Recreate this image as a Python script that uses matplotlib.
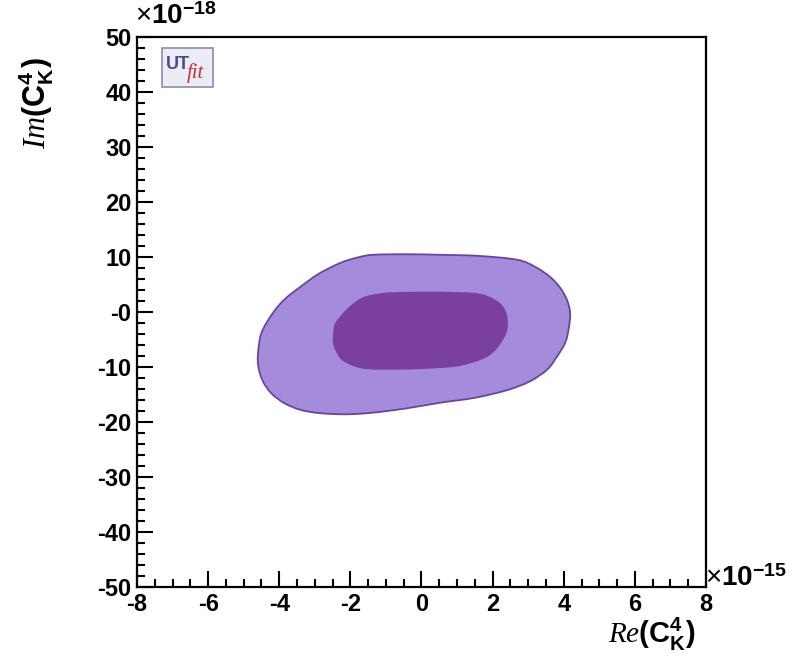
import matplotlib
matplotlib.use("Agg")
import numpy as np
import matplotlib.pyplot as plt
from matplotlib.patches import Rectangle, PathPatch
from matplotlib.path import Path
from matplotlib.ticker import MultipleLocator

# outer (95%) contour, x in 1e-15, y in 1e-18
outer_x = [-4.60, -4.50, -4.18, -3.85, -3.42, -2.90, -2.29, -1.80, -1.36, -0.40, 0.52,
           1.60, 2.69, 3.20, 3.61, 3.90, 4.09, 4.18, 4.14, 4.04, 3.80, 3.53, 3.05,
           2.41, 1.50, 0.52, -0.40, -1.36, -2.10, -2.85, -3.40, -3.85, -4.22, -4.46, -4.58]
outer_y = [-7.8, -3.8, -0.2, 2.3, 4.5, 6.9, 8.9, 9.9, 10.4, 10.5, 10.4,
           10.2, 9.5, 8.2, 6.4, 4.4, 2.2, -0.2, -3.0, -5.6, -8.2, -10.5, -12.6,
           -14.2, -15.6, -16.5, -17.5, -18.3, -18.6, -18.4, -17.8, -16.6, -14.8, -12.6, -10.2]

# inner (68%) contour
inner_x = [-2.49, -2.44, -2.21, -1.95, -1.64, -1.25, -0.80, 0.30, 1.45, 1.90, 2.21,
           2.38, 2.43, 2.40, 2.29, 2.10, 1.84, 1.40, 0.89, -0.10, -1.17, -1.65,
           -2.01, -2.25, -2.38, -2.48]
inner_y = [-4.5, -2.2, -0.2, 1.4, 2.7, 3.3, 3.6, 3.7, 3.5, 2.8, 1.6,
           0.0, -2.0, -3.6, -5.1, -6.8, -8.2, -9.3, -10.0, -10.4, -10.5, -10.3,
           -9.6, -8.7, -7.5, -6.0]

x_ticks = [-8, -6, -4, -2, 0, 2, 4, 6, 8]
x_ticklabels = ["-8", "-6", "-4", "-2", "0", "2", "4", "6", "8"]
y_ticks = [-50, -40, -30, -20, -10, 0, 10, 20, 30, 40, 50]
y_ticklabels = ["-50", "-40", "-30", "-20", "-10", "-0", "10", "20", "30", "40", "50"]


def smooth_closed_path(xs, ys):
    # closed Catmull-Rom curve through the points, as cubic Bezier segments
    p = np.column_stack([xs, ys])
    n = len(p)
    verts = [p[0]]
    codes = [Path.MOVETO]
    for i in range(n):
        p0, p1, p2, p3 = p[i - 1], p[i], p[(i + 1) % n], p[(i + 2) % n]
        verts += [p1 + (p2 - p0) / 6, p2 - (p3 - p1) / 6, p2]
        codes += [Path.CURVE4] * 3
    return Path(verts, codes)


plt.rcParams["axes.unicode_minus"] = False
plt.rcParams["mathtext.fontset"] = "custom"
plt.rcParams["mathtext.it"] = "Liberation Serif:italic"
plt.rcParams["mathtext.bf"] = "Liberation Sans:bold"
plt.rcParams["mathtext.rm"] = "Liberation Sans"
plt.rcParams["font.family"] = ["Liberation Sans", "DejaVu Sans"]

fig = plt.figure(figsize=(7.97, 6.69), dpi=100)
ax = fig.add_axes([0.1719, 0.1226, 0.7139, 0.8221])

ax.add_patch(PathPatch(smooth_closed_path(outer_x, outer_y), facecolor="#a58bdb",
                       edgecolor="#6a4598", linewidth=1.3, zorder=2))
ax.add_patch(PathPatch(smooth_closed_path(inner_x, inner_y), facecolor="#7b3fa0",
                       edgecolor="none", zorder=3))

ax.set_xticks(x_ticks)
ax.set_xticklabels(x_ticklabels, fontweight="bold")
ax.set_yticks(y_ticks)
ax.set_yticklabels(y_ticklabels, fontweight="bold")
ax.xaxis.set_minor_locator(MultipleLocator(0.5))
ax.yaxis.set_minor_locator(MultipleLocator(2))
ax.set_xlim(-8, 8)
ax.set_ylim(-50, 50)
ax.tick_params(which="both", direction="in", top=False, right=False, width=1.5,
               labelsize=17)
ax.tick_params(which="major", length=11.5, pad=4)
ax.tick_params(which="minor", length=5.5)
for s in ax.spines.values():
    s.set_linewidth(1.6)

ax.set_xlabel(r"$\mathit{Re}\mathbf{(C^{4}_{K})}$", fontsize=21)
ax.xaxis.set_label_coords(0.905, -0.052)
ax.set_ylabel(r"$\mathit{Im}\mathbf{(C^{4}_{K})}$", fontsize=22)
ax.yaxis.set_label_coords(-0.143, 0.88)

# exponent markers
fig.text(0.170, 0.955, r"$\times$10$^{\mathbf{-18}}$", fontsize=20, fontweight="bold",
         ha="left", va="bottom")
fig.text(0.884, 0.135, r"$\times$10$^{\mathbf{-15}}$", fontsize=20, fontweight="bold",
         ha="left", va="center")

# UTfit logo
ax.add_patch(Rectangle((0.044, 0.909), 0.09, 0.071, transform=ax.transAxes,
                       facecolor="#ececf6", edgecolor="#8c8cae", linewidth=1.2, zorder=5))
ax.text(0.050, 0.950, "UT", transform=ax.transAxes, fontsize=13, fontweight="bold",
        color="#4b4b8c", ha="left", va="center", zorder=6)
ax.text(0.088, 0.935, "fit", transform=ax.transAxes, fontsize=15, style="italic",
        family="Liberation Serif", color="#c8303c", ha="left", va="center", zorder=6)

fig.savefig("out.png", dpi=100)
